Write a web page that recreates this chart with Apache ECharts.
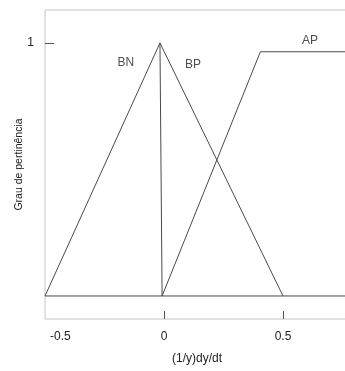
<!DOCTYPE html>
<html>
<head>
<meta charset="utf-8">
<script src="https://cdn.jsdelivr.net/npm/echarts@6/dist/echarts.min.js"></script>
<style>html,body{margin:0;padding:0;background:#fff}#c{width:345px;height:371px}</style>
</head>
<body>
<div id="c"></div>
<script>
// Membership functions
var bnPoints = [[-0.5, 0], [-0.017, 1]];
var peakDrop = [[-0.017, 1], [-0.008, 0]];
var bpPoints = [[-0.017, 1], [0.5, 0]];
var apPoints = [[-0.008, 0], [0.405, 0.965], [1, 0.965]];
var basePoints = [[-0.5, 0], [1, 0]];
// Set labels
var setNames = ['BN', 'BP', 'AP'];
var setLabelX = [-0.16, 0.122, 0.613];
var setLabelY = [0.921, 0.913, 1.008];
// Ticks
var xTickLabels = [-0.5, 0, 0.5, 1];
var xTickMarks = [0, 0.5];
var yTickLabels = [1];

var FONT = '"Liberation Sans", Arial, sans-serif';
var LINE = '#4a4a4a';
var chart = echarts.init(document.getElementById('c'), null, {renderer: 'canvas'});

var lineStyle = {color: LINE, width: 1};
function mk(d) {
  return {type: 'line', data: d, symbol: 'none', lineStyle: lineStyle, silent: true, animation: false, z: 3};
}

chart.setOption({
  animation: false,
  backgroundColor: '#fff',
  grid: {left: 45, top: 10, right: -57, bottom: 52, show: true, borderColor: '#c4c4c4', borderWidth: 1, backgroundColor: 'transparent', containLabel: false, outerBoundsMode: 'none'},
  xAxis: {
    type: 'value', min: -0.5, max: 1,
    axisLine: {show: false, onZero: false},
    splitLine: {show: false},
    axisTick: {show: true, inside: true, length: 8, lineStyle: {color: '#555'}, customValues: xTickMarks},
    axisLabel: {show: true, margin: 12, color: '#222', fontSize: 12, fontFamily: FONT, customValues: xTickLabels, alignMinLabel: 'left',
      formatter: function (v) { return v === xTickLabels[0] ? '{m|' + v + '}' : String(v); },
      rich: {m: {padding: [0, 0, 0, 5], fontSize: 12, fontFamily: FONT, color: '#222'}}},
    name: '(1/y)dy/dt', nameLocation: 'middle', nameGap: 34, nameMoveOverlap: false,
    nameTextStyle: {color: '#222', fontSize: 12, fontFamily: FONT, padding: [0, 53, 0, 0]}
  },
  yAxis: {
    type: 'value', min: -0.091, max: 1.13,
    axisLine: {show: false, onZero: false},
    splitLine: {show: false},
    axisTick: {show: true, inside: true, length: 9, lineStyle: {color: '#555'}, customValues: yTickLabels},
    axisLabel: {show: true, margin: 11, color: '#222', fontSize: 12, fontFamily: FONT, customValues: yTickLabels,
      formatter: function (v) { return String(v); }},
    name: 'Grau de pertinência', nameLocation: 'middle', nameGap: 20, nameRotate: 90, nameMoveOverlap: false,
    nameTextStyle: {color: '#222', fontSize: 10.5, fontFamily: FONT}
  },
  series: [
    mk(basePoints), mk(bnPoints), mk(peakDrop), mk(bpPoints), mk(apPoints),
    {
      type: 'scatter', symbolSize: 0, silent: true, animation: false,
      data: setNames.map(function (n, i) { return {name: n, value: [setLabelX[i], setLabelY[i]]}; }),
      label: {show: true, position: 'inside', formatter: '{b}', color: '#222', fontSize: 12, fontFamily: FONT}
    }
  ]
});
</script>
</body>
</html>
